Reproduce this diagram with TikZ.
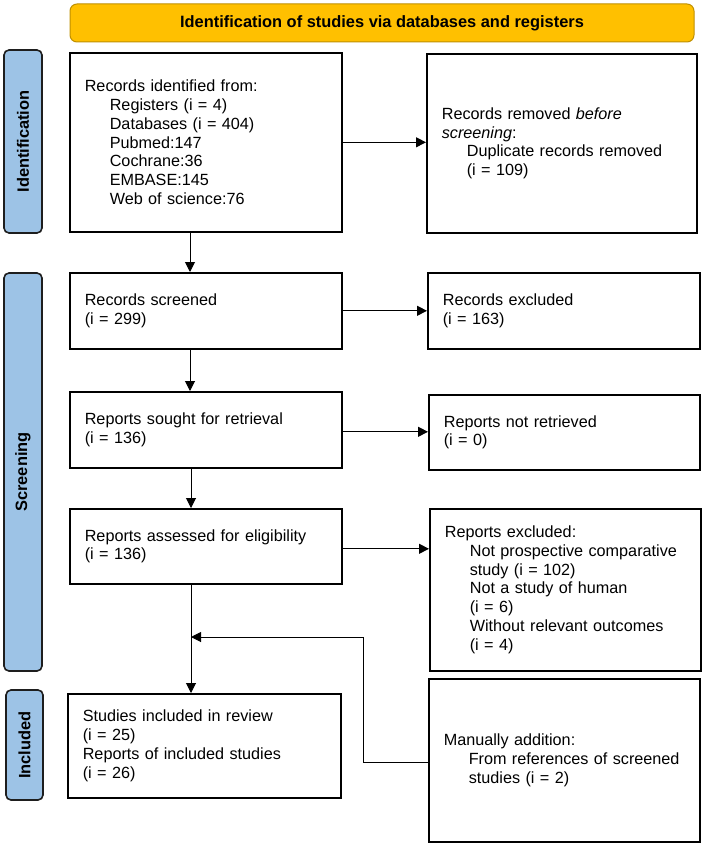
\documentclass[tikz,border=0pt]{standalone}
\usepackage{fontspec}
\setmainfont{Liberation Sans}
\usetikzlibrary{arrows.meta}
\definecolor{bannerfill}{RGB}{255,192,0}
\definecolor{bannerdraw}{RGB}{191,144,0}
\definecolor{sidefill}{RGB}{157,195,230}
\definecolor{sidedraw}{RGB}{30,30,30}
\tikzset{
  box/.style={draw=black, line width=1.6pt, fill=white, inner xsep=15pt, inner ysep=0pt, align=left, anchor=north west,
    font=\fontsize{16.2pt}{18.7pt}\selectfont},
  sidebar/.style={draw=sidedraw, line width=1.6pt, fill=sidefill, rounded corners=5pt, rotate=90, inner sep=0pt,
    font=\fontsize{16.4pt}{19pt}\selectfont\bfseries},
  banner/.style={draw=bannerdraw, line width=1pt, fill=bannerfill, rounded corners=7pt, inner sep=0pt,
    font=\fontsize{16.4pt}{19pt}\selectfont\bfseries},
  arr/.style={-{Triangle[length=10pt,width=10pt]}, line width=1pt, draw=black}
}
\newcommand{\ind}{\hspace*{25pt}}
\begin{document}
\begin{tikzpicture}[x=1pt,y=-1pt]
\useasboundingbox (0,0) rectangle (702,845);
% banner
\node[banner, minimum width=624pt, minimum height=38pt] (ban) at (382,23) {Identification of studies via databases and registers};
% side bars
\node[sidebar, minimum width=183pt, minimum height=38pt] (sid) at (23,141.5) {Identification};
\node[sidebar, minimum width=398pt, minimum height=38pt] (sscr) at (23,472) {Screening};
\node[sidebar, minimum width=110pt, minimum height=37pt] (sinc) at (24.5,745) {Included};
% left column
\node[box, text width=242pt, minimum height=179pt] (id) at (69,52) {Records identified from:\\\ind Registers (i = 4)\\\ind Databases (i = 404)\\\ind Pubmed:147\\\ind Cochrane:36\\\ind EMBASE:145\\\ind Web of science:76};
\node[box, text width=242pt, minimum height=76pt] (scr) at (69,272) {Records screened\\(i = 299)};
\node[box, text width=242pt, minimum height=76pt] (sou) at (69,391) {Reports sought for retrieval\\(i = 136)};
\node[box, text width=242pt, minimum height=75pt] (ass) at (69,508) {Reports assessed for eligibility\\(i = 136)};
\node[box, text width=243pt, minimum height=104pt] (stu) at (67,693) {Studies included in review\\(i = 25)\\Reports of included studies\\(i = 26)};
% right column
\node[box, text width=240pt, minimum height=179pt] (rem) at (426,53) {Records removed \textit{before}\\\textit{screening}:\\\ind Duplicate records removed\\\ind (i = 109)};
\node[box, text width=242pt, minimum height=76pt] (rex) at (427,272) {Records excluded\\(i = 163)};
\node[box, text width=241pt, minimum height=75pt] (nr) at (428,394) {Reports not retrieved\\(i = 0)};
\node[box, text width=241pt, minimum height=162pt] (rpx) at (429,508) {Reports excluded:\\\ind Not prospective comparative\\\ind study (i = 102)\\\ind Not a study of human\\\ind (i = 6)\\\ind Without relevant outcomes\\\ind (i = 4)};
\node[box, text width=241pt, minimum height=163pt] (man) at (428,678) {Manually addition:\\\ind From references of screened\\\ind studies (i = 2)};
% connectors
\draw[arr] ([xshift=121pt]id.south west) -- ([xshift=121pt]scr.north west);
\draw[arr] (id.east) -- (id.east -| rem.west);
\draw[arr] (scr.east) -- (scr.east -| rex.west);
\draw[arr] ([xshift=121pt]scr.south west) -- ([xshift=121pt]sou.north west);
\draw[arr] ([yshift=-2pt]sou.east) -- ([yshift=-2pt]sou.east -| nr.west);
\draw[arr] ([xshift=122pt]sou.south west) -- ([xshift=122pt]ass.north west);
\draw[arr] ([yshift=-2.5pt]ass.east) -- ([yshift=-2.5pt]ass.east -| rpx.west);
\draw[arr] ([xshift=122pt]ass.south west) -- ([xshift=124pt]stu.north west);
\coordinate (fb) at (191,637);
\draw[arr] ([yshift=-2.5pt]man.west) -- ++(-65,0) |- (fb);
\end{tikzpicture}
\end{document}
